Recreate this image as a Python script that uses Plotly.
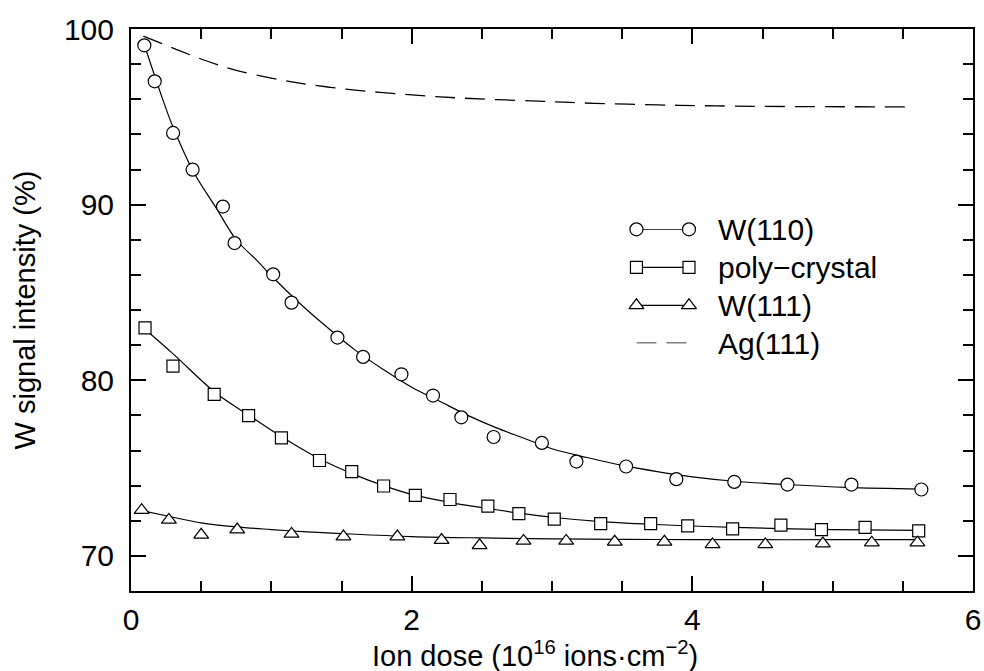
import plotly.graph_objects as go

# Measured W signal intensity versus ion dose
w110_dose = [0.095, 0.169, 0.30, 0.439, 0.655, 0.738, 1.013, 1.144, 1.471, 1.654, 1.927,
             2.152, 2.354, 2.584, 2.928, 3.174, 3.528, 3.886, 4.299, 4.678, 5.134, 5.632]
w110_signal = [99.07, 97.02, 94.08, 91.99, 89.89, 87.81, 86.03, 84.42, 82.43, 81.33, 80.34,
               79.13, 77.89, 76.77, 76.43, 75.37, 75.09, 74.37, 74.21, 74.06, 74.06, 73.78]

poly_dose = [0.10, 0.299, 0.593, 0.838, 1.072, 1.343, 1.573, 1.80, 2.026, 2.273, 2.543,
             2.764, 3.016, 3.347, 3.703, 3.967, 4.287, 4.631, 4.920, 5.231, 5.613]
poly_signal = [82.98, 80.80, 79.20, 77.99, 76.72, 75.43, 74.80, 73.98, 73.45, 73.21, 72.83,
               72.41, 72.09, 71.84, 71.84, 71.71, 71.54, 71.75, 71.50, 71.62, 71.42]

w111_dose = [0.076, 0.27, 0.50, 0.757, 1.144, 1.514, 1.898, 2.213, 2.484, 2.797, 3.101,
             3.447, 3.801, 4.144, 4.52, 4.93, 5.279, 5.604]
w111_signal = [72.6, 72.05, 71.2, 71.5, 71.25, 71.1, 71.1, 70.9, 70.6, 70.85, 70.85,
               70.8, 70.8, 70.65, 70.65, 70.7, 70.75, 70.75]

# Fitted curves
w110_fit_dose = [0.095, 0.2, 0.3, 0.45, 0.6, 0.75, 0.9, 1.0, 1.2, 1.4, 1.6, 1.8, 2.0, 2.2,
                 2.4, 2.6, 2.8, 3.0, 3.25, 3.5, 3.75, 4.0, 4.3, 4.7, 5.1, 5.632]
w110_fit = [99.1, 96.6, 94.4, 91.8, 89.9, 88.0, 86.8, 85.95, 84.4, 83.0, 81.7, 80.6, 79.6, 78.8,
            78.0, 77.3, 76.7, 76.1, 75.6, 75.15, 74.8, 74.5, 74.25, 74.05, 73.9, 73.8]

poly_fit_dose = [0.1, 0.3, 0.6, 0.85, 1.07, 1.35, 1.6, 1.8, 2.0, 2.27, 2.5, 2.75, 3.0, 3.35,
                 3.7, 4.0, 4.3, 4.63, 5.0, 5.613]
poly_fit = [82.9, 81.5, 79.3, 77.95, 76.8, 75.5, 74.6, 74.0, 73.5, 73.05, 72.75, 72.45, 72.2,
            71.95, 71.8, 71.7, 71.62, 71.55, 71.5, 71.45]

w111_fit_dose = [0.076, 0.3, 0.5, 0.75, 1.0, 1.25, 1.5, 2.0, 2.5, 3.0, 3.5, 4.0, 4.5, 5.0, 5.604]
w111_fit = [72.58, 72.2, 71.88, 71.65, 71.5, 71.37, 71.27, 71.1, 71.02, 70.97, 70.94, 70.93,
            70.92, 70.92, 70.92]

ag_dose = [0.088, 0.35, 0.55, 0.75, 1.0, 1.2, 1.42, 1.65, 1.9, 2.13, 2.37, 2.9, 3.3, 3.75,
           4.17, 4.8, 5.55]
ag_signal = [99.6, 98.75, 98.15, 97.65, 97.2, 96.92, 96.68, 96.48, 96.31, 96.17, 96.06, 95.89,
             95.77, 95.68, 95.62, 95.58, 95.57]

series_names = ["W(110)", "poly\u2212crystal", "W(111)", "Ag(111)"]

FONT = "Liberation Sans, Arial, Helvetica, sans-serif"
LINE = dict(color="black", width=1.2)
DASH = dict(color="black", width=1.3, dash="20px,10px")


def marker(symbol, size):
    return dict(symbol=symbol, size=size, color="white",
                line=dict(color="black", width=1.2))


fig = go.Figure()

# fitted curves
for xs, ys in [(w110_fit_dose, w110_fit), (poly_fit_dose, poly_fit), (w111_fit_dose, w111_fit)]:
    fig.add_trace(go.Scatter(x=xs, y=ys, mode="lines", line=dict(shape="spline", **LINE),
                             showlegend=False, hoverinfo="skip"))

fig.add_trace(go.Scatter(x=ag_dose, y=ag_signal, mode="lines",
                         line=dict(shape="spline", **DASH), showlegend=False))

# measured points
fig.add_trace(go.Scatter(x=w110_dose, y=w110_signal, mode="markers",
                         marker=marker("circle", 13), showlegend=False))
fig.add_trace(go.Scatter(x=poly_dose, y=poly_signal, mode="markers",
                         marker=marker("square", 12), showlegend=False))
fig.add_trace(go.Scatter(x=w111_dose, y=w111_signal, mode="markers",
                         marker=marker("triangle-up", 13), showlegend=False))

# legend drawn in a small inset axis: a sample line with a symbol at each end
legend_styles = [
    dict(mode="lines+markers", marker=marker("circle", 13), line=LINE),
    dict(mode="lines+markers", marker=marker("square", 12), line=LINE),
    dict(mode="lines+markers", marker=marker("triangle-up", 13), line=LINE),
    dict(mode="lines", line=DASH),
]
for i, (name, style) in enumerate(zip(series_names, legend_styles)):
    fig.add_trace(go.Scatter(x=[0, 1], y=[i, i], xaxis="x2", yaxis="y2",
                             cliponaxis=False, showlegend=False, hoverinfo="skip", **style))
    fig.add_annotation(x=1, y=i, xref="x2", yref="y2", text=name, showarrow=False,
                       xanchor="left", yanchor="middle", xshift=27,
                       font=dict(family=FONT, size=30, color="black"))

# x-axis title, set slightly left of the plot centre
fig.add_annotation(x=0.4796, y=0, xref="paper", yref="paper", yanchor="middle",
                   yshift=-63, showarrow=False,
                   text="Ion dose (10<sup>16</sup> ions\u00b7cm<sup>\u22122</sup>)",
                   font=dict(family=FONT, size=29, color="black"))

axis_common = dict(
    ticks="inside", ticklen=15, tickwidth=1.5, tickcolor="black",
    showline=True, linewidth=2, linecolor="black", mirror="ticks",
    showgrid=False, zeroline=False, automargin=False,
    tickfont=dict(family=FONT, size=30, color="black"),
)

fig.update_layout(
    width=984, height=671,
    margin=dict(l=131, r=11, t=29, b=80, pad=0),
    paper_bgcolor="white", plot_bgcolor="white",
    showlegend=False,
    font=dict(family=FONT, color="black"),
    xaxis=dict(
        range=[0, 6], tick0=0, dtick=2,
        minor=dict(dtick=0.5, ticks="inside", ticklen=10, tickwidth=1.5, tickcolor="black"),
        ticklabelstandoff=1,
        **axis_common,
    ),
    yaxis=dict(
        range=[68, 100], tick0=0, dtick=10,
        minor=dict(dtick=2, ticks="inside", ticklen=10, tickwidth=1.5, tickcolor="black"),
        title=dict(text="W signal intensity (%)", font=dict(family=FONT, size=29), standoff=20),
        ticklabelstandoff=9,
        **axis_common,
    ),
    xaxis2=dict(domain=[0.6003, 0.6627], range=[0, 1], visible=False, anchor="y2"),
    yaxis2=dict(domain=[0.4408, 0.6435], range=[3, 0], visible=False, anchor="x2"),
)

fig.write_html("out.html")
